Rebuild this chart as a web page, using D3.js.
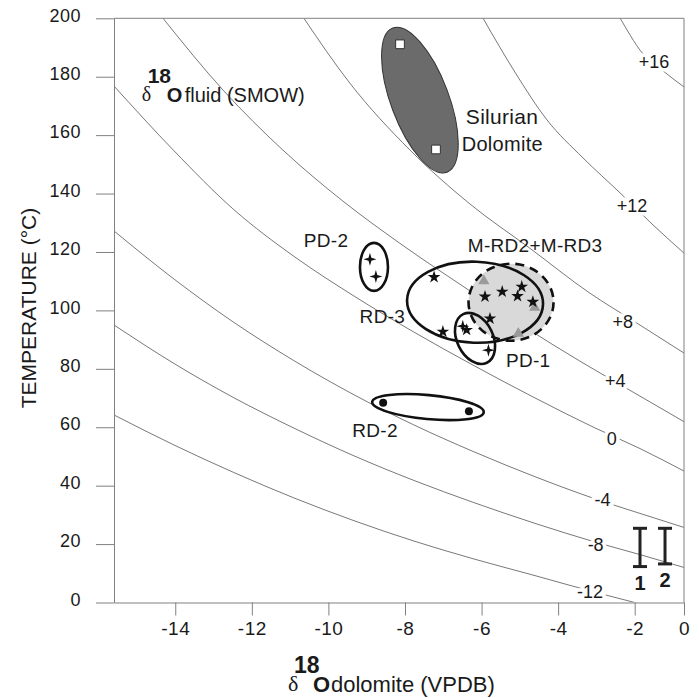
<!DOCTYPE html>
<html>
<head>
<meta charset="utf-8">
<script src="https://cdn.jsdelivr.net/npm/d3@7/dist/d3.min.js"></script>
<style>
  body { margin: 0; background: #fff; }
  text { font-family: "Liberation Sans", Arial, sans-serif; fill: #1a1a1a; }
  .axis path, .axis line { stroke: #808080; }
  .axis text { font-size: 18px; letter-spacing: 0.5px; fill: #1a1a1a; }
</style>
</head>
<body>
<svg id="chart" width="699" height="698"></svg>
<script>
// isotherms of d18O fluid (SMOW): [d18O dolomite VPDB, temperature C]
var isoP16 = [[-2.38, 200], [-2.20, 196.0], [-1.785, 189.1], [-0.892, 182.3], [0, 176.5]];
var isoP12 = [[-5.96, 200], [-5.13, 181.6], [-4.29, 165.2], [-3.35, 152.2], [-2.38, 140.2],
              [-1.30, 129.6], [0, 119.6]];
var isoP8  = [[-10.64, 200], [-9.44, 177.8], [-7.87, 154.9], [-6.30, 136.4], [-4.74, 121.3],
              [-3.17, 105.9], [-2.07, 96.7], [0, 85.4]];
var isoP4  = [[-14.32, 200], [-12.75, 175.4], [-11.19, 154.9], [-9.62, 137.4], [-8.05, 122.2],
              [-6.49, 108.3], [-4.92, 94.7], [-3.35, 82.0], [-2.25, 73.6], [0, 61.9]];
var iso0   = [[-15.6, 176.8], [-14.03, 154.6], [-12.47, 134.5], [-10.90, 118.5], [-9.33, 104.9],
              [-7.77, 92.6], [-6.20, 81.1], [-4.63, 70.2], [-3.06, 59.9], [-1.785, 52.7], [0, 45.0]];
var isoM4  = [[-15.6, 127.2], [-14.03, 110.7], [-12.47, 95.9], [-10.90, 82.8], [-9.33, 71.1],
              [-7.77, 60.8], [-6.20, 51.6], [-4.63, 43.2], [-3.06, 35.6], [-1.785, 30.5], [0, 25.7]];
var isoM8  = [[-15.6, 95.0], [-14.03, 81.8], [-12.47, 70.1], [-10.90, 59.7], [-9.33, 50.2],
              [-7.77, 41.8], [-6.20, 34.2], [-4.63, 27.2], [-3.06, 20.8], [-1.785, 16.4], [0, 12.0]];
var isoM12 = [[-15.6, 64.2], [-14.03, 53.9], [-12.47, 44.5], [-10.90, 35.8], [-9.33, 28.0],
              [-7.77, 21.05], [-6.20, 14.9], [-4.63, 9.3], [-3.06, 3.6], [-2.0, 0]];

var isoNames = ['+16', '+12', '+8', '+4', '0', '-4', '-8', '-12'];
var isoLabelAt = [[-1.22, 185.3], [-2.07, 135.7], [-2.31, 96.0], [-2.51, 75.8],
                  [-2.60, 56.2], [-2.84, 35.1], [-3.02, 19.7], [-3.17, 3.8]];

// samples
var silurian = [[-8.13, 191.1], [-7.19, 155.1]];
var pd2 = [[-8.915, 117.5], [-8.76, 111.6]];
var rd3 = [[-7.24, 111.4], [-7.01, 92.7], [-6.39, 93.3], [-5.91, 104.7], [-5.78, 97.2],
           [-5.46, 106.4], [-5.06, 104.9], [-4.95, 108.1], [-4.66, 102.9]];
var pd1 = [[-6.49, 94.6], [-5.82, 86.4]];
var mrd = [[-5.94, 110.1], [-4.61, 101.0], [-5.04, 92.1]];
var rd2 = [[-8.57, 68.4], [-6.33, 65.5]];

// error bars: [x, T low, T high] and their names
var errBars = [[-1.785, 12.3, 25.4], [-0.77, 13.2, 25.4]];
var errNames = ['1', '2'];

var xTicks = [-14, -12, -10, -8, -6, -4, -2, 0];
var yTicks = [0, 20, 40, 60, 80, 100, 120, 140, 160, 180, 200];

// Define margins
var margin = {top: 18.3, right: 15, bottom: 95.5, left: 114},
    width = 699 - margin.left - margin.right,
    height = 698 - margin.top - margin.bottom;

// Define scales (the picture squeezes the last -2..0 step)
var xScale = d3.scaleLinear().domain([-15.6, -2, 0]).range([0, 520.7, width]);
var yScale = d3.scaleLinear().domain([0, 200]).range([height, 0]);

var root = d3.select('#chart');
var svg = root.append('g')
    .attr('transform', 'translate(' + margin.left + ',' + margin.top + ')');

svg.append('clipPath').attr('id', 'plotclip')
  .append('rect').attr('width', width).attr('height', height);

// Isotherm curves
var line = d3.line().curve(d3.curveMonotoneX)
    .x(function(d) { return xScale(d[0]); })
    .y(function(d) { return yScale(d[1]); });

var isotherms = [isoP16, isoP12, isoP8, isoP4, iso0, isoM4, isoM8, isoM12];
svg.append('g').attr('clip-path', 'url(#plotclip)')
  .selectAll('path')
  .data(isotherms)
  .enter().append('path')
    .attr('d', line)
    .attr('fill', 'none')
    .attr('stroke', '#555')
    .attr('stroke-width', 0.8);

// Isotherm labels with a white knock-out
svg.append('g').selectAll('text')
  .data(isoNames)
  .enter().append('text')
    .attr('x', function(d, i) { return xScale(isoLabelAt[i][0]); })
    .attr('y', function(d, i) { return yScale(isoLabelAt[i][1]); })
    .attr('dy', '0.35em')
    .attr('text-anchor', 'middle')
    .style('font-size', '18px')
    .style('paint-order', 'stroke')
    .attr('stroke', '#fff')
    .attr('stroke-width', 7)
    .text(function(d) { return d; });

// Axes (plain hyphen minus as in the figure)
var fmt = function(d) { return String(d); };
var xAxis = d3.axisBottom(xScale).tickValues(xTicks).tickFormat(fmt)
    .tickSize(13).tickSizeOuter(0).tickPadding(6);
var yAxis = d3.axisLeft(yScale).tickValues(yTicks).tickFormat(fmt)
    .tickSize(18).tickSizeOuter(0).tickPadding(15);

svg.append('g')
    .attr('class', 'x axis')
    .attr('transform', 'translate(0,' + height + ')')
    .call(xAxis)
    .selectAll('text').style('font-size', '19px');

svg.append('g')
    .attr('class', 'y axis')
    .call(yAxis)
    .selectAll('text').attr('dy', '0.15em');

// Top and right frame
svg.append('line').attr('x1', 0).attr('x2', width).attr('y1', 0).attr('y2', 0).attr('stroke', '#808080');
svg.append('line').attr('x1', width).attr('x2', width).attr('y1', 0).attr('y2', height).attr('stroke', '#808080');

// Group ellipses: centre in data units, radii in px, rotation in degrees
var groups = [
  {c: [-7.61, 172.0], rx: 29, ry: 77, rot: -20.6, fill: '#6b6b6b', stroke: '#333', sw: 1, dash: null},
  {c: [-5.23, 102.8], rx: 42.5, ry: 38.5, rot: 0, fill: '#d9d9d9', stroke: 'none', sw: 0, dash: null},
  {c: [-8.81, 114.9], rx: 14, ry: 24, rot: 0, fill: 'none', stroke: '#111', sw: 2.6, dash: null},
  {c: [-6.17, 102.8], rx: 68, ry: 40.5, rot: 2, fill: 'none', stroke: '#111', sw: 2.6, dash: null},
  {c: [-6.17, 90.4], rx: 18, ry: 27, rot: -26, fill: 'none', stroke: '#111', sw: 2.6, dash: null},
  {c: [-7.40, 66.9], rx: 56, ry: 12, rot: 5.3, fill: 'none', stroke: '#111', sw: 2.6, dash: null},
  {c: [-5.23, 102.8], rx: 42.5, ry: 38.5, rot: 0, fill: 'none', stroke: '#111', sw: 2.6, dash: '9,6'}
];

svg.append('g').selectAll('ellipse')
  .data(groups)
  .enter().append('ellipse')
    .attr('transform', function(d) {
      return 'translate(' + xScale(d.c[0]) + ',' + yScale(d.c[1]) + ') rotate(' + d.rot + ')';
    })
    .attr('rx', function(d) { return d.rx; })
    .attr('ry', function(d) { return d.ry; })
    .attr('fill', function(d) { return d.fill; })
    .attr('stroke', function(d) { return d.stroke; })
    .attr('stroke-width', function(d) { return d.sw; })
    .attr('stroke-dasharray', function(d) { return d.dash; });

// Four-point star
var sparkle = {
  draw: function(context, size) {
    var r = Math.sqrt(size) / 2, w = r * 0.22;
    context.moveTo(0, -r); context.lineTo(w, -w); context.lineTo(r, 0); context.lineTo(w, w);
    context.lineTo(0, r); context.lineTo(-w, w); context.lineTo(-r, 0); context.lineTo(-w, -w);
    context.closePath();
  }
};

var drawPoints = function(data, type, size, fill, stroke) {
  svg.append('g').selectAll('path')
    .data(data)
    .enter().append('path')
      .attr('transform', function(d) { return 'translate(' + xScale(d[0]) + ',' + yScale(d[1]) + ')'; })
      .attr('d', d3.symbol().type(type).size(size))
      .attr('fill', fill)
      .attr('stroke', stroke)
      .attr('stroke-width', 1);
};

drawPoints(mrd, d3.symbolTriangle, 55, '#9a9a9a', 'none');
drawPoints(silurian, d3.symbolSquare, 76, '#fff', '#333');
drawPoints(rd3, d3.symbolStar, 50, '#111', 'none');
drawPoints(pd2, sparkle, 169, '#111', 'none');
drawPoints(pd1, sparkle, 169, '#111', 'none');
drawPoints(rd2, d3.symbolCircle, 50, '#111', 'none');

// Error bars
var bars = svg.append('g').attr('stroke', '#222').attr('stroke-width', 3);
errBars.forEach(function(b) {
  var bx = xScale(b[0]);
  bars.append('line').attr('x1', bx).attr('x2', bx).attr('y1', yScale(b[1])).attr('y2', yScale(b[2]));
  bars.append('line').attr('x1', bx - 7).attr('x2', bx + 7).attr('y1', yScale(b[1])).attr('y2', yScale(b[1]));
  bars.append('line').attr('x1', bx - 7).attr('x2', bx + 7).attr('y1', yScale(b[2])).attr('y2', yScale(b[2]));
});
svg.append('g').selectAll('text')
  .data(errNames)
  .enter().append('text')
    .attr('x', function(d, i) { return xScale(errBars[i][0]); })
    .attr('y', function(d, i) { return yScale(errBars[i][1]) + 23; })
    .attr('text-anchor', 'middle')
    .style('font-size', '20px')
    .style('font-weight', 'bold')
    .text(function(d) { return d; });

// Group labels
var labels = [
  {t: 'PD-2', at: [-10.06, 124.0], anchor: 'middle', size: 19},
  {t: 'RD-3', at: [-8.59, 97.8], anchor: 'middle', size: 19},
  {t: 'PD-1', at: [-4.78, 83.0], anchor: 'middle', size: 19},
  {t: 'M-RD2+M-RD3', at: [-6.36, 122.3], anchor: 'start', size: 19},
  {t: 'Silurian', at: [-6.41, 166.4], anchor: 'start', size: 21},
  {t: 'Dolomite', at: [-6.52, 157.1], anchor: 'start', size: 20},
  {t: 'RD-2', at: [-8.78, 58.9], anchor: 'middle', size: 19}
];
svg.append('g').selectAll('text')
  .data(labels)
  .enter().append('text')
    .attr('x', function(d) { return xScale(d.at[0]); })
    .attr('y', function(d) { return yScale(d.at[1]); })
    .attr('dy', '0.35em')
    .attr('text-anchor', function(d) { return d.anchor; })
    .style('font-size', function(d) { return d.size + 'px'; })
    .style('letter-spacing', '0.3px')
    .text(function(d) { return d.t; });

// delta-18-O label builder (page coordinates)
var deltaLabel = function(x0, base, rest, size) {
  var g = root.append('g');
  g.append('text').attr('x', x0).attr('y', base - 1)
    .style('font-family', '"Liberation Serif", serif').style('font-size', size + 'px').text('δ');
  g.append('text').attr('x', x0 + 6).attr('y', base - 19)
    .style('font-size', (size + 1) + 'px').style('font-weight', 'bold').text('18');
  g.append('text').attr('x', x0 + 25).attr('y', base)
    .style('font-size', size + 'px').style('font-weight', 'bold').text('O');
  g.append('text').attr('x', x0 + 43).attr('y', base)
    .style('font-size', size + 'px').text(rest);
};
deltaLabel(141.7, 101.5, 'fluid (SMOW)', 20);
deltaLabel(288, 692, 'dolomite (VPDB)', 22);

// Y axis title
root.append('text')
    .attr('transform', 'translate(36,308) rotate(-90)')
    .attr('text-anchor', 'middle')
    .style('font-size', '21px')
    .text('TEMPERATURE (°C)');
</script>
</body>
</html>
